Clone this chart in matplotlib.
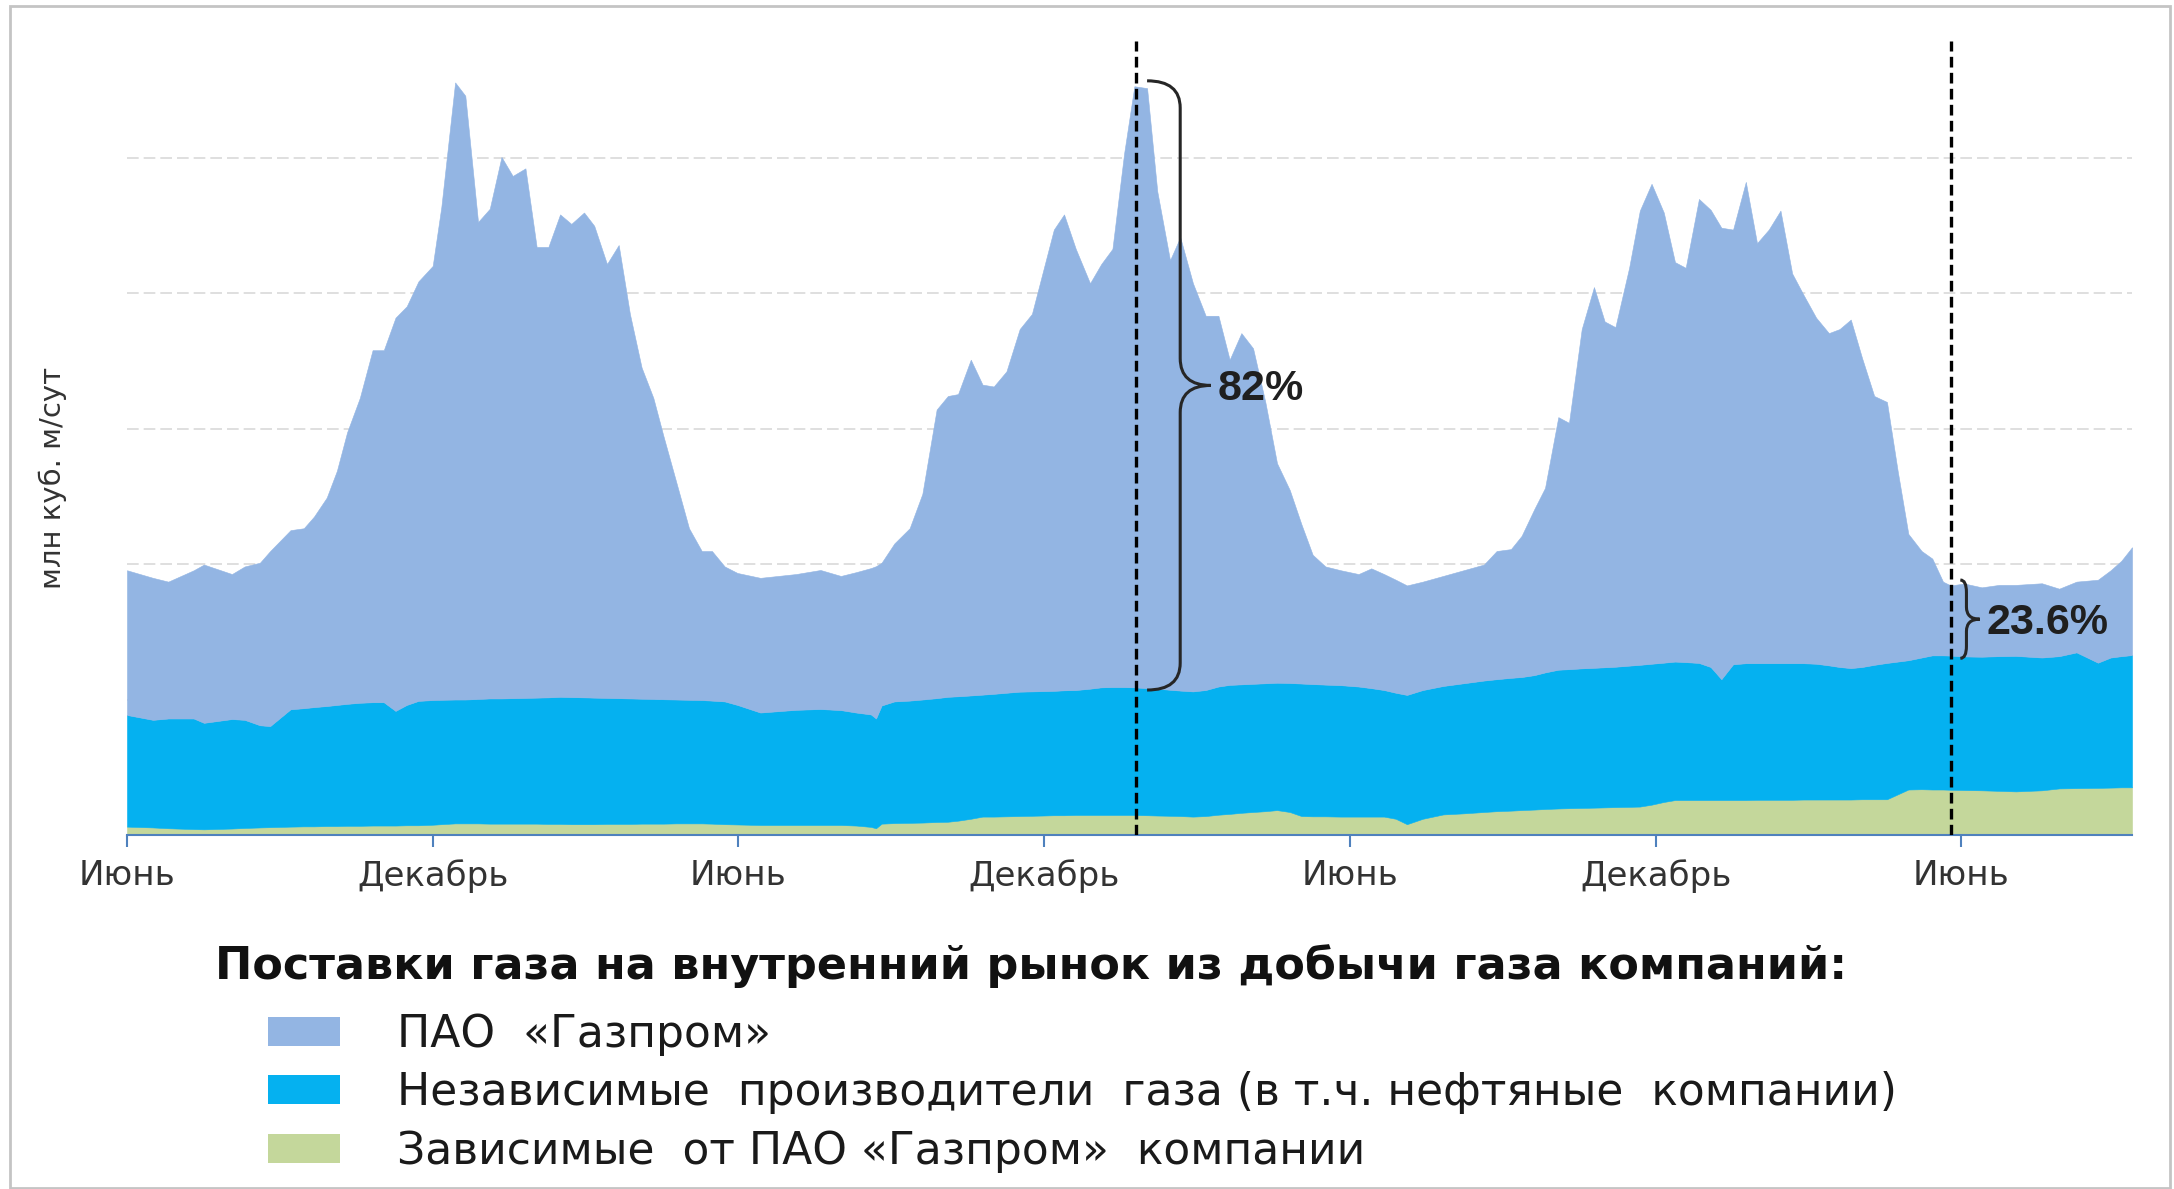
# Gas deliveries to the domestic market, stacked by producer group
import numpy as np
import matplotlib
matplotlib.use('Agg')
import matplotlib.pyplot as plt
from matplotlib.patches import Patch, Rectangle, PathPatch
from matplotlib.path import Path

# months since the first June on the axis
months = [0.00, 0.51, 0.81, 1.31, 1.51, 2.06, 2.31, 2.61, 2.81, 3.21,
          3.47, 3.67, 3.92, 4.12, 4.32, 4.57, 4.82, 5.04, 5.27, 5.49,
          5.72, 6.00, 6.17, 6.44, 6.64, 6.89, 7.12, 7.35, 7.57, 7.82,
          8.04, 8.27, 8.50, 8.72, 8.97, 9.17, 9.42, 9.65, 9.87, 10.10,
          10.33, 10.53, 10.78, 11.03, 11.28, 11.48, 11.73, 11.98, 12.43, 13.13,
          13.61, 14.01, 14.31, 14.60, 14.70, 14.81, 15.06, 15.36, 15.61, 15.89,
          16.11, 16.31, 16.56, 16.79, 17.01, 17.26, 17.52, 17.76, 18.19, 18.39,
          18.62, 18.90, 19.12, 19.34, 19.57, 19.77, 20.02, 20.22, 20.47, 20.67,
          20.92, 21.17, 21.42, 21.64, 21.87, 22.10, 22.34, 22.57, 22.82, 23.05,
          23.27, 23.52, 23.82, 24.17, 24.42, 24.67, 24.90, 25.12, 25.43, 25.83,
          26.23, 26.63, 26.88, 27.16, 27.37, 27.62, 27.83, 28.09, 28.30, 28.55,
          28.79, 29.00, 29.21, 29.48, 29.69, 29.92, 30.16, 30.38, 30.59, 30.85,
          31.08, 31.29, 31.52, 31.77, 31.99, 32.22, 32.45, 32.68, 32.90, 33.15,
          33.40, 33.61, 33.83, 34.05, 34.29, 34.54, 34.75, 34.96, 35.22, 35.43,
          35.64, 35.79, 36.06, 36.40, 36.74, 37.07, 37.58, 37.92, 38.26, 38.68,
          38.93, 39.14, 39.35]

# PAO Gazprom
gazprom = [534, 524, 505, 547, 584, 535, 566, 600, 646, 661,
           664, 703, 769, 864, 1002, 1125, 1299, 1299, 1451, 1471,
           1548, 1602, 1819, 2277, 2228, 1760, 1807, 1998, 1927, 1954,
           1663, 1662, 1780, 1746, 1789, 1741, 1601, 1672, 1419, 1222,
           1111, 970, 802, 633, 550, 552, 498, 487, 497, 501,
           513, 495, 518, 540, 562, 527, 583, 636, 759, 1065,
           1110, 1115, 1239, 1144, 1134, 1186, 1338, 1393, 1702, 1756,
           1628, 1496, 1562, 1617, 1970, 2218, 2214, 1835, 1585, 1673,
           1506, 1381, 1368, 1200, 1296, 1238, 1038, 810, 712, 587,
           477, 436, 424, 415, 442, 428, 417, 404, 400, 406,
           417, 428, 473, 475, 521, 613, 681, 932, 909, 1252,
           1405, 1276, 1253, 1468, 1676, 1771, 1661, 1474, 1455, 1712,
           1687, 1666, 1604, 1776, 1550, 1600, 1670, 1438, 1360, 1277,
           1226, 1247, 1286, 1141, 992, 963, 704, 466, 393, 357,
           272, 259, 269, 256, 263, 262, 274, 249, 261, 306,
           322, 352, 398]

# independent producers (incl. oil companies)
independent = [412, 397, 405, 408, 393, 404, 399, 377, 373, 433,
               436, 440, 443, 447, 450, 454, 455, 455, 423, 444,
               459, 460, 459, 457, 457, 459, 462, 462, 463, 464,
               465, 467, 469, 469, 468, 467, 465, 464, 463, 461,
               460, 459, 457, 456, 455, 454, 453, 441, 415, 425,
               428, 424, 417, 415, 405, 436, 449, 451, 454, 457,
               461, 459, 455, 450, 453, 456, 459, 459, 459, 461,
               461, 466, 471, 472, 472, 471, 469, 468, 465, 463,
               462, 465, 473, 476, 474, 473, 472, 470, 476, 489,
               488, 486, 485, 480, 474, 467, 465, 477, 475, 474,
               480, 485, 487, 490, 491, 496, 504, 512, 513, 515,
               516, 517, 518, 521, 523, 520, 514, 511, 509, 506,
               491, 446, 501, 505, 504, 504, 504, 504, 503, 501,
               495, 489, 485, 488, 496, 503, 490, 477, 486, 495,
               495, 495, 493, 493, 497, 500, 490, 488, 501, 462,
               480, 484, 488]

# companies dependent on PAO Gazprom
dependent = [31, 28, 25, 22, 21, 24, 26, 28, 29, 31,
             32, 32, 33, 33, 34, 34, 35, 35, 35, 36,
             36, 38, 40, 43, 43, 43, 42, 42, 42, 42,
             42, 41, 41, 40, 40, 40, 41, 41, 41, 42,
             42, 42, 43, 43, 43, 42, 40, 39, 37, 37,
             37, 37, 35, 30, 25, 42, 44, 45, 46, 48,
             49, 53, 60, 68, 68, 69, 70, 71, 73, 73,
             74, 74, 74, 74, 74, 74, 73, 72, 71, 70,
             68, 70, 75, 78, 82, 85, 88, 92, 85, 70,
             69, 69, 68, 68, 68, 68, 60, 40, 60, 76,
             80, 85, 88, 90, 92, 94, 96, 98, 99, 100,
             101, 102, 103, 104, 105, 112, 122, 129, 129, 129,
             129, 129, 129, 129, 130, 130, 130, 130, 131, 131,
             131, 131, 131, 132, 132, 132, 150, 168, 169, 168,
             168, 167, 166, 165, 163, 161, 165, 172, 173, 174,
             175, 176, 176]

tick_months = [0, 6, 12, 18, 24, 30, 36]
tick_labels = ['Июнь', 'Декабрь', 'Июнь', 'Декабрь', 'Июнь', 'Декабрь', 'Июнь']

# dashed markers and the share labels next to them
marker_months = [19.8, 35.8]
marker_labels = ['82%', '23.6%']

series_names = ['ПАО  «Газпром»',
                'Независимые  производители  газа (в т.ч. нефтяные  компании)',
                'Зависимые  от ПАО «Газпром»  компании']
colors = ['#93b5e3', '#05b1f0', '#c4d79b']

fig = plt.figure(figsize=(21.74, 11.89), dpi=100)
ax = fig.add_axes([0.0584, 0.2977, 0.9223, 0.6838])

# stacked areas (bottom to top: dependent, independent, Gazprom)
ax.stackplot(months, dependent, independent, gazprom,
             colors=[colors[2], colors[1], colors[0]],
             edgecolor='face', linewidth=0.4)

ax.set_xlim(0, months[-1])
ax.set_ylim(0, 3000)

# grid
ax.set_yticks([500, 1000, 1500, 2000, 2500])
ax.yaxis.grid(True, color='#d9d9d9', linestyle=(0, (7, 3)), linewidth=1.2)
ax.set_axisbelow(True)
ax.tick_params(axis='y', length=0, labelleft=False)

# x axis
ax.set_xticks(tick_months)
ax.set_xticklabels(tick_labels)
ax.tick_params(axis='x', direction='out', length=8.5, width=1.5,
               color='#4f81bd', labelsize=24.5, labelcolor='#333333', pad=9)
for s in ['left', 'right', 'top']:
    ax.spines[s].set_visible(False)
ax.spines['bottom'].set_color('#4f81bd')
ax.spines['bottom'].set_linewidth(1.5)

fig.text(53 / 2174, 1 - 478 / 1189, 'млн куб. м/сут', rotation=90,
         ha='center', va='center', fontsize=21, color='#333333')


def brace(x_left, x_spine, x_tip, y_bot, y_top, r):
    # right-pointing curly brace in data coordinates
    y_mid = (y_bot + y_top) / 2
    verts = [(x_left, y_top), (x_spine, y_top), (x_spine, y_top - r),
             (x_spine, y_mid + r), (x_spine, y_mid), (x_tip, y_mid),
             (x_spine, y_mid), (x_spine, y_mid - r),
             (x_spine, y_bot + r), (x_spine, y_bot), (x_left, y_bot)]
    codes = [Path.MOVETO, Path.CURVE3, Path.CURVE3,
             Path.LINETO, Path.CURVE3, Path.CURVE3,
             Path.CURVE3, Path.CURVE3,
             Path.LINETO, Path.CURVE3, Path.CURVE3]
    ax.add_patch(PathPatch(Path(verts, codes), fill=False,
                           edgecolor='#262626', linewidth=2.2))


top = np.array(gazprom) + np.array(independent) + np.array(dependent)
lower = np.array(independent) + np.array(dependent)

# vertical dashed lines with braces over the Gazprom layer
offsets = [(0.22, 0.87, 1.47, 100), (0.18, 0.3, 0.56, 45)]
for m, lab, (o1, o2, o3, r) in zip(marker_months, marker_labels, offsets):
    ax.vlines(m, 0, 2930, colors='black', linestyles=(0, (3.2, 1.6)),
              linewidth=2.4, zorder=5)
    i = int(np.argmin(np.abs(np.array(months) - m)))
    y_lo, y_hi = lower[i] - 10, top[i] + 20
    brace(m + o1, m + o2, m + o3, y_lo, y_hi, r)
    ax.text(m + o3 + 0.14, (y_lo + y_hi) / 2 - 15, lab,
            family=['Liberation Sans Narrow', 'Liberation Sans'],
            fontweight='bold', fontsize=31, color='#1f1f1f',
            ha='left', va='center', zorder=6)

# legend
fig.text(215 / 2174, 1 - 966 / 1189,
         'Поставки газа на внутренний рынок из добычи газа компаний:',
         fontsize=32, fontweight='bold', ha='left', va='center', color='#111111')
handles = [Patch(facecolor=c, edgecolor='none') for c in colors]
fig.legend(handles, series_names, loc='upper left',
           bbox_to_anchor=(268 / 2174, 1 - 1013 / 1189),
           frameon=False, fontsize=31.7, handlelength=1.64, handleheight=0.64,
           handletextpad=1.3, labelspacing=0.35, borderpad=0, borderaxespad=0,
           labelcolor='#1a1a1a')

# picture frame
fig.add_artist(Rectangle((0.0046, 0.001), 0.9936, 0.994, transform=fig.transFigure,
                         fill=False, edgecolor='#c4c4c4', linewidth=2))

fig.savefig('out.png', dpi=100)
